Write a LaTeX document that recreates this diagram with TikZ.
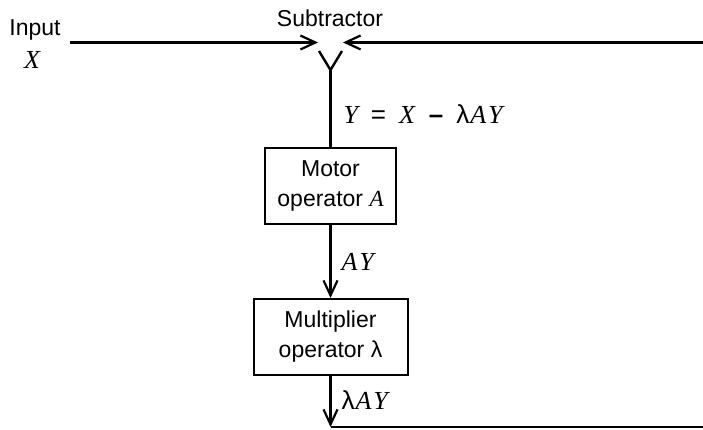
\documentclass[tikz,border=0pt]{standalone}
\usepackage{fontspec}
\setmainfont{Liberation Sans}
\newfontfamily\mserif{Liberation Serif}
\newcommand{\mv}[1]{{\mserif\itshape #1}}
\usetikzlibrary{arrows.meta}
\begin{document}
\begin{tikzpicture}[x=1pt,y=-1pt,
  wire/.style={line width=2.4pt},
  arr/.style={wire,-{Straight Barb[length=15pt,width=14pt,line width=2.2pt]}},
  blk/.style={draw,line width=2pt,align=center,inner sep=0pt,
    font=\fontsize{23}{30}\selectfont},
  lbl/.style={font=\fontsize{23}{25}\selectfont},
  mth/.style={font=\fontsize{26}{28}\selectfont}]
\useasboundingbox (0,0) rectangle (703,430);
% labels
\node[lbl] (input) at (35,30) {Input};
\node[mth] (xin) at (32,60) {\mv{X}};
\node[lbl] (sub) at (330,18) {Subtractor};
% coordinates
\coordinate (inL) at (70,42.5);
\coordinate (tipL) at (318,42.5);
\coordinate (topR) at (703,42.5);
\coordinate (tipR) at (343,42.5);
\coordinate (armL) at (319,51);
\coordinate (armR) at (342,51);
\coordinate (yv) at (330.5,70);
\coordinate (botL) at (330.5,427);
\coordinate (botR) at (703,427);
% blocks
\node[blk,minimum width=131pt,minimum height=76pt] (motor) at (330.5,186) {Motor\\operator \mv{A}};
\node[blk,minimum width=154pt,minimum height=76pt] (mult) at (330.5,337) {Multiplier\\operator λ};
% connectors
\draw[arr] (inL) -- (tipL);
\draw[arr] (topR) -- (tipR);
\draw[wire] (armL) -- (yv) -- (armR);
\draw[wire] (yv) -- (motor.north);
\draw[arr] (motor.south) -- (mult.north);
\draw[arr] (mult.south) -- (botL);
\draw[wire] (botL) -- (botR);
% signal labels
\node[mth,anchor=west] (eq) at (340,114) {\mv{Y}\hspace{13pt}=\hspace{13pt}\mv{X}\hspace{13pt}\textbf{--}\hspace{13pt}λ\hspace{1pt}\mv{A\hspace{2pt}Y}};
\node[mth,anchor=west] (ay) at (338,262) {\mv{A\hspace{2pt}Y}};
\node[mth,anchor=west] (lay) at (338,400) {λ\hspace{1pt}\mv{A\hspace{2pt}Y}};
\end{tikzpicture}
\end{document}
